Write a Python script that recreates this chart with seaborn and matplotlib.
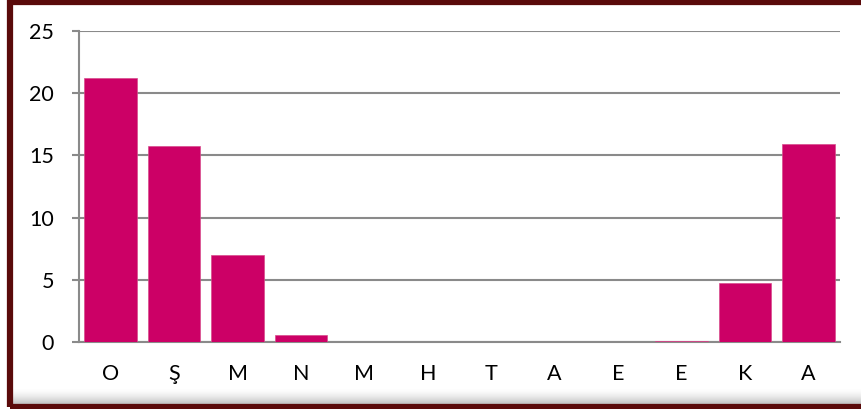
import matplotlib
matplotlib.use("Agg")
import matplotlib.pyplot as plt
import seaborn as sns
import pandas as pd
from matplotlib.patches import Rectangle

months = ["Ocak", "Şubat", "Mart", "Nisan", "Mayıs", "Haziran",
          "Temmuz", "Ağustos", "Eylül", "Ekim", "Kasım", "Aralık"]
labels = ["O", "Ş", "M", "N", "M", "H", "T", "A", "E", "E", "K", "A"]
values = [21.2, 15.75, 7.0, 0.55, 0.0, 0.0, 0.0, 0.0, 0.0, 0.1, 4.75, 15.95]

sns.set_theme(style="white")
plt.rcParams["font.family"] = ["Lato", "DejaVu Sans"]

fig = plt.figure(figsize=(8.61, 4.09), dpi=100)
fig.patch.set_facecolor("white")

# frame and bottom shadow
for i in range(16):
    y0 = (4 + i) / 409
    fig.patches.append(Rectangle((12 / 861, y0), 1, 1 / 409, transform=fig.transFigure,
                                 facecolor="#7a7a7a", alpha=0.5 * (1 - i / 16) ** 1.6,
                                 edgecolor="none", zorder=0))
fig.patches.append(Rectangle((9.5 / 861, 2 / 409), 1, 405.5 / 409, transform=fig.transFigure,
                             facecolor="none", edgecolor="#5a0a0a", linewidth=4.5, zorder=5))

ax = fig.add_axes([79 / 861, 1 - 342 / 409, (840 - 79) / 861, (342 - 31) / 409])
df = pd.DataFrame({"month": months, "value": values})
sns.barplot(data=df, x="month", y="value", order=months, color="#CC0066",
            saturation=1, width=0.83, ax=ax, zorder=3, edgecolor="#D84C8C", linewidth=0.5)

ax.set_xlim(-0.5, 11.5)
ax.set_ylim(0, 25)
ax.set_yticks([0, 5, 10, 15, 20, 25])
ax.set_xticks(range(12))
ax.set_xticklabels(labels)
ax.set_xticks([i - 0.5 for i in range(13)], minor=True)
ax.set_xlabel("")
ax.set_ylabel("")

ax.tick_params(axis="x", which="major", length=0, pad=16, labelsize=15.5, colors="black")
ax.tick_params(axis="x", which="minor", length=5, width=1.5, color="#8a8a8a", direction="out")
ax.tick_params(axis="y", which="major", length=5, width=1.5, color="#8a8a8a", pad=13,
               labelsize=15.5, labelcolor="black", direction="out", left=True)

ax.yaxis.grid(True, color="#8a8a8a", linewidth=1.5, zorder=0)
ax.set_axisbelow(True)
for s in ["top", "right"]:
    ax.spines[s].set_visible(False)
for s in ["left", "bottom"]:
    ax.spines[s].set_color("#8a8a8a")
    ax.spines[s].set_linewidth(1.5)
ax.set_facecolor("white")

fig.savefig("out.png", dpi=100, facecolor="white")
